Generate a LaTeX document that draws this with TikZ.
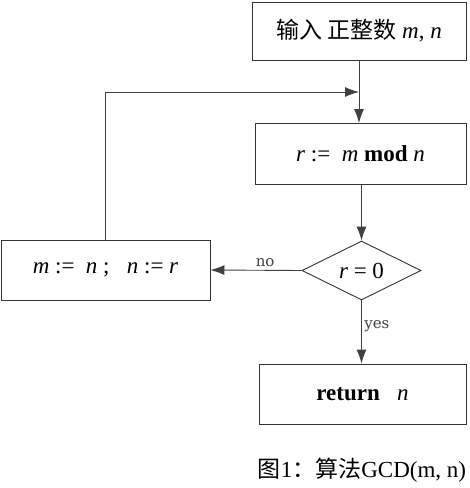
\documentclass[tikz,border=0pt]{standalone}
\usepackage{fontspec}
\setmainfont{Liberation Serif}
\newfontfamily\cjk{Noto Sans CJK SC}
\newfontfamily\lblfont{DejaVu Serif}
\usetikzlibrary{arrows.meta,shapes.geometric}
\newcommand{\vv}[1]{\textit{#1}}
\begin{document}
\begin{tikzpicture}[x=1pt,y=-1pt,
  box/.style={draw=black!80,line width=0.9pt,rectangle,inner sep=0pt},
  dia/.style={draw=black!80,line width=0.9pt,diamond,aspect=2,inner sep=0pt},
  wire/.style={draw=black!75,line width=0.9pt},
  conn/.style={wire,-{Latex[length=14pt,width=10pt]}},
  lbl/.style={font=\lblfont\fontsize{15}{17}\selectfont,text=black!75}]
\useasboundingbox (0,0) rectangle (470,488);
\node[box,minimum width=214pt,minimum height=58pt] (inp) at (359,31) {\fontsize{23}{26}\selectfont{\cjk 输入 正整数} \vv{m}, \vv{n}};
\node[box,minimum width=211pt,minimum height=61pt] (mod) at (360.5,154) {\fontsize{23}{26}\selectfont \vv{r} :=\ \ \vv{m} \textbf{mod} \vv{n}};
\node[dia,minimum width=119pt,minimum height=59pt] (test) at (361.5,270.5) {\fontsize{23}{26}\selectfont \vv{r} = 0};
\node[box,minimum width=209pt,minimum height=60pt] (asg) at (105.5,270) {\fontsize{23}{26}\selectfont \vv{m} :=\ \ \vv{n} ;\ \ \ \vv{n} := \vv{r}};
\node[box,minimum width=207pt,minimum height=60pt] (ret) at (362.5,394) {\fontsize{23}{26}\selectfont\textbf{return}\ \ \ \vv{n}};
\node[font=\fontsize{23}{26}\selectfont] (cap) at (362,470) {{\cjk 图}1{\cjk ：算法}GCD(m, n)};
\coordinate (join) at (359,92);
\coordinate (corner) at (105.5,92);
\draw[wire] (inp.south -| join) -- (join);
\draw[conn] (asg.north) -- (corner) -- (join);
\draw[conn] (join) -- (join |- mod.north);
\draw[conn] (mod.south -| test.north) -- (test.north);
\draw[conn] (test.west) -- node[lbl,above,pos=0.4,yshift=0pt] (no) {no} (asg.east);
\draw[conn] (test.south) -- node[lbl,right,pos=0.4,xshift=-1pt] (yes) {yes} (test.south |- ret.north);
\end{tikzpicture}
\end{document}
